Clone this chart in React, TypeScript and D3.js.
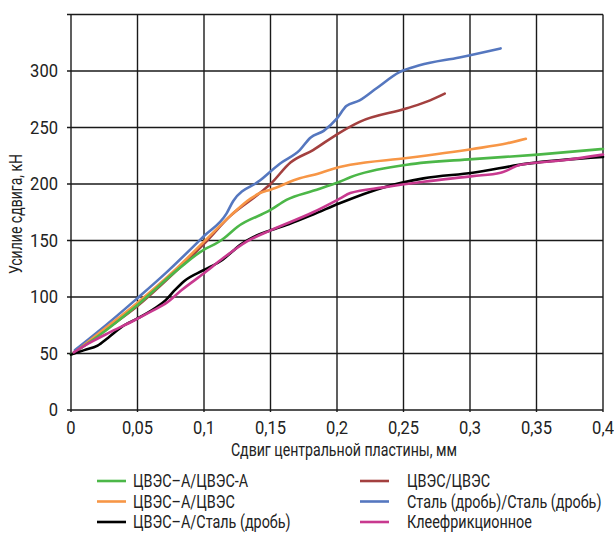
import * as d3 from "d3";

type Pt = [number, number];

// ЦВЭС–А/ЦВЭС-А
const greenPts: Pt[] = [
  [0, 49], [0.02, 65], [0.05, 93], [0.082, 126], [0.1, 142], [0.11, 148], [0.115, 152],
  [0.125, 162], [0.15, 177], [0.162, 186], [0.182, 194], [0.202, 202], [0.21, 206],
  [0.2526, 217], [0.302, 222], [0.351, 226], [0.4, 231],
];
// ЦВЭС–А/ЦВЭС
const orangePts: Pt[] = [
  [0.002, 50], [0.02, 67], [0.05, 95], [0.08, 126], [0.1, 149], [0.12, 172], [0.135, 187],
  [0.142, 192], [0.15, 195], [0.172, 205], [0.182, 208], [0.202, 215], [0.21, 217],
  [0.2526, 223], [0.302, 231], [0.328, 236], [0.342, 240],
];
// ЦВЭС–А/Сталь (дробь)
const blackPts: Pt[] = [
  [0, 49], [0.01, 53], [0.02, 57], [0.028, 64], [0.04, 75], [0.05, 81], [0.063, 90],
  [0.071, 97], [0.078, 106], [0.085, 114], [0.1, 124], [0.114, 133], [0.122, 141],
  [0.127, 146], [0.137, 153], [0.15, 159], [0.165, 165], [0.182, 173], [0.202, 183],
  [0.235, 197], [0.265, 205], [0.302, 210], [0.343, 218], [0.4, 224],
];
// ЦВЭС/ЦВЭС
const brownPts: Pt[] = [
  [0.002, 50], [0.02, 66], [0.05, 92], [0.08, 124], [0.1, 147], [0.12, 172], [0.142, 192],
  [0.15, 200], [0.165, 219], [0.182, 230], [0.2, 244], [0.217, 255], [0.2526, 267],
  [0.27, 274], [0.281, 280],
];
// Сталь (дробь)/Сталь (дробь)
const bluePts: Pt[] = [
  [0.003, 53], [0.02, 69], [0.05, 99], [0.072, 122], [0.1, 154], [0.117, 174], [0.122, 185],
  [0.142, 203], [0.157, 218], [0.172, 230], [0.18, 241], [0.19, 247], [0.2, 258],
  [0.207, 269], [0.217, 274], [0.23, 285], [0.247, 299], [0.262, 305], [0.292, 312],
  [0.323, 320],
];
// Клеефрикционное
const magentaPts: Pt[] = [
  [0.002, 51], [0.015, 60], [0.028, 68], [0.047, 79], [0.06, 87], [0.072, 95], [0.083, 106],
  [0.1, 121], [0.114, 134], [0.132, 149], [0.15, 159], [0.182, 175], [0.202, 187],
  [0.21, 192], [0.235, 197], [0.265, 202], [0.302, 207], [0.323, 210], [0.338, 217],
  [0.37, 221], [0.4, 226],
];

const xTicks = [0, 0.05, 0.1, 0.15, 0.2, 0.25, 0.3, 0.35, 0.4];
const yTicks = [0, 50, 100, 150, 200, 250, 300];

const series = [
  { name: "ЦВЭС–А/ЦВЭС-А", color: "#4cb748", pts: greenPts },
  { name: "ЦВЭС–А/ЦВЭС", color: "#f79646", pts: orangePts },
  { name: "ЦВЭС–А/Сталь (дробь)", color: "#000000", pts: blackPts },
  { name: "ЦВЭС/ЦВЭС", color: "#a3403f", pts: brownPts },
  { name: "Сталь (дробь)/Сталь (дробь)", color: "#5577bf", pts: bluePts },
  { name: "Клеефрикционное", color: "#c8398f", pts: magentaPts },
];

const font = "Roboto, 'Liberation Sans', sans-serif";

// condensed text: the original uses a narrow face, so squeeze Roboto horizontally
function T({ x, y, anchor = "start", rotate = 0, sx = 0.8, children }: any) {
  return (
    <g transform={`translate(${x},${y}) rotate(${rotate}) scale(${sx},1)`}>
      <text dy="0.35em" textAnchor={anchor} fontSize={18} fill="#222">
        {children}
      </text>
    </g>
  );
}

export default function App() {
  const left = 71, right = 603, top = 14.5, bottom = 410;
  const x = d3.scaleLinear().domain([0, 0.4]).range([left, right]);
  const y = d3.scaleLinear().domain([0, 350]).range([bottom, top]);
  const line = d3
    .line<Pt>()
    .x((d) => x(d[0]))
    .y((d) => y(d[1]))
    .curve(d3.curveMonotoneX);
  const fmt = (v: number) => String(v).replace(".", ",");
  const grid = "#1a1a1a";

  // back to front draw order
  const drawOrder = [4, 3, 1, 0, 2, 5];

  return (
    <svg
      width={614}
      height={534}
      style={{ position: "absolute", left: 0, top: 0, background: "#fff" }}
      fontFamily={font}
    >
      <g>
        {xTicks.map((t) => (
          <line key={"vx" + t} x1={x(t)} x2={x(t)} y1={top} y2={bottom + 2} stroke={grid} strokeWidth={1.4} />
        ))}
        {[...yTicks, 350].map((t) => (
          <line key={"hy" + t} x1={left - 4} x2={right} y1={y(t)} y2={y(t)} stroke={grid} strokeWidth={1.4} />
        ))}
      </g>
      {drawOrder.map((i) => (
        <path
          key={series[i].name}
          d={line(series[i].pts) ?? ""}
          fill="none"
          stroke={series[i].color}
          strokeWidth={2.6}
          strokeLinejoin="round"
          strokeLinecap="round"
        />
      ))}
      {yTicks.map((t) => (
        <T key={"yl" + t} x={58} y={y(t)} anchor="end" sx={0.92}>
          {t}
        </T>
      ))}
      {xTicks.map((t) => (
        <T key={"xl" + t} x={x(t)} y={428} anchor="middle" sx={0.92}>
          {fmt(t)}
        </T>
      ))}
      <T x={344} y={450} anchor="middle" sx={0.785}>
        Сдвиг центральной пластины, мм
      </T>
      <T x={16} y={214} anchor="middle" rotate={-90} sx={0.78}>
        Усилие сдвига, кН
      </T>
      {series.map((s, i) => {
        const col = Math.floor(i / 3);
        const row = i % 3;
        const lx = col === 0 ? 97 : 360;
        const tx = col === 0 ? 133 : 407;
        const ly = 481 + row * 20.5;
        return (
          <g key={"lg" + s.name}>
            <line x1={lx} x2={lx + 29} y1={ly} y2={ly} stroke={s.color} strokeWidth={2.6} />
            <T x={tx} y={ly} sx={0.8}>
              {s.name}
            </T>
          </g>
        );
      })}
    </svg>
  );
}
